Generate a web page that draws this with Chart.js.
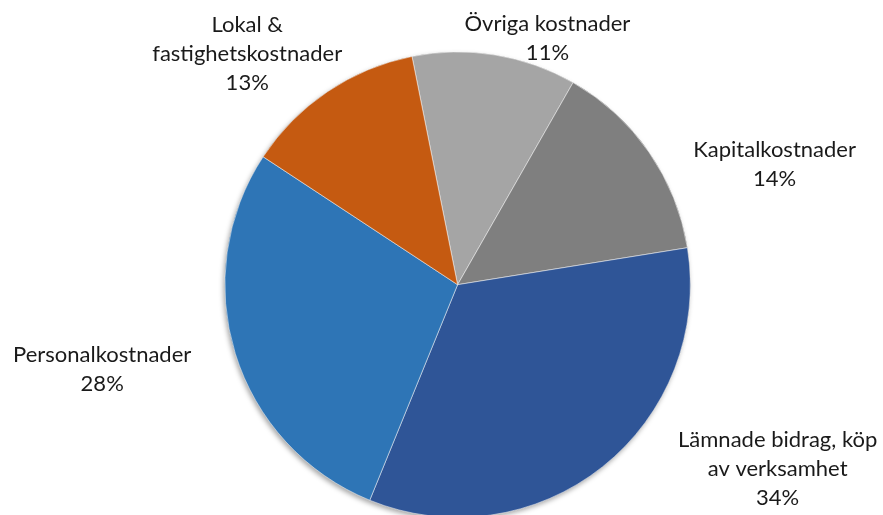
<!DOCTYPE html>
<html>
<head>
<meta charset="utf-8">
<script src="https://cdn.jsdelivr.net/npm/chart.js@4/dist/chart.umd.min.js"></script>
<style>
  html, body { margin: 0; padding: 0; background: #ffffff; overflow: hidden; }
  #wrap { position: absolute; left: 0; top: 0; width: 883px; height: 521px; }
</style>
</head>
<body>
<div id="wrap"><canvas id="c"></canvas></div>
<script>
// ---- data ----
const categories = [
  ['Övriga kostnader'],
  ['Kapitalkostnader'],
  ['Lämnade bidrag, köp', 'av verksamhet'],
  ['Personalkostnader'],
  ['Lokal &', 'fastighetskostnader']
];
const shares = [11.4, 14.2, 33.7, 28.1, 12.6];
const sliceColors = ['#A5A5A5', '#7F7F7F', '#2F5597', '#2E75B6', '#C55A11'];

// label anchors (first-line baseline), in units of the pie radius from the centre
const labelAnchors = [
  [0.386, -1.089],
  [1.362, -0.547],
  [1.375, 0.698],
  [-1.527, 0.330],
  [-0.904, -1.086]
];
const FONT = '22px Lato, "Liberation Sans", sans-serif';
const LINE_H = 29;

const shadowPlugin = {
  id: 'pieShadow',
  beforeDatasetsDraw(chart) {
    const arc = chart.getDatasetMeta(0).data[0];
    if (!arc) return;
    const ctx = chart.ctx;
    ctx.save();
    ctx.shadowColor = 'rgba(0,0,0,0.35)';
    ctx.shadowBlur = 5;
    ctx.shadowOffsetX = -1.5;
    ctx.shadowOffsetY = 2.5;
    ctx.fillStyle = '#999';
    ctx.beginPath();
    ctx.arc(arc.x, arc.y, arc.outerRadius, 0, Math.PI * 2);
    ctx.fill();
    ctx.restore();
  }
};

const labelPlugin = {
  id: 'outsideLabels',
  afterDatasetsDraw(chart) {
    const meta = chart.getDatasetMeta(0);
    const arc0 = meta.data[0];
    const cx = arc0.x, cy = arc0.y, R = arc0.outerRadius;
    const data = chart.data.datasets[0].data;
    const total = data.reduce((a, b) => a + b, 0);
    const ctx = chart.ctx;
    ctx.save();
    ctx.font = FONT;
    ctx.fillStyle = '#1a1a1a';
    ctx.textAlign = 'center';
    ctx.textBaseline = 'alphabetic';
    chart.data.labels.forEach((lab, i) => {
      const lines = (Array.isArray(lab) ? lab.slice() : [lab]);
      lines.push(Math.round(data[i] / total * 100) + '%');
      const x = cx + labelAnchors[i][0] * R;
      const y0 = cy + labelAnchors[i][1] * R;
      lines.forEach((t, k) => ctx.fillText(t, x, y0 + k * LINE_H));
    });
    ctx.restore();
  }
};

new Chart(document.getElementById('c'), {
  type: 'pie',
  data: {
    labels: categories,
    datasets: [{
      data: shares,
      backgroundColor: sliceColors,
      borderColor: '#ffffff',
      borderWidth: 0.5
    }]
  },
  options: {
    responsive: true,
    maintainAspectRatio: false,
    animation: false,
    rotation: -11.3,
    layout: { padding: { left: 224.6, right: 192.4, top: 51.7, bottom: 3.3 } },
    plugins: {
      legend: { display: false },
      tooltip: { enabled: false }
    }
  },
  plugins: [shadowPlugin, labelPlugin]
});
</script>
</body>
</html>
